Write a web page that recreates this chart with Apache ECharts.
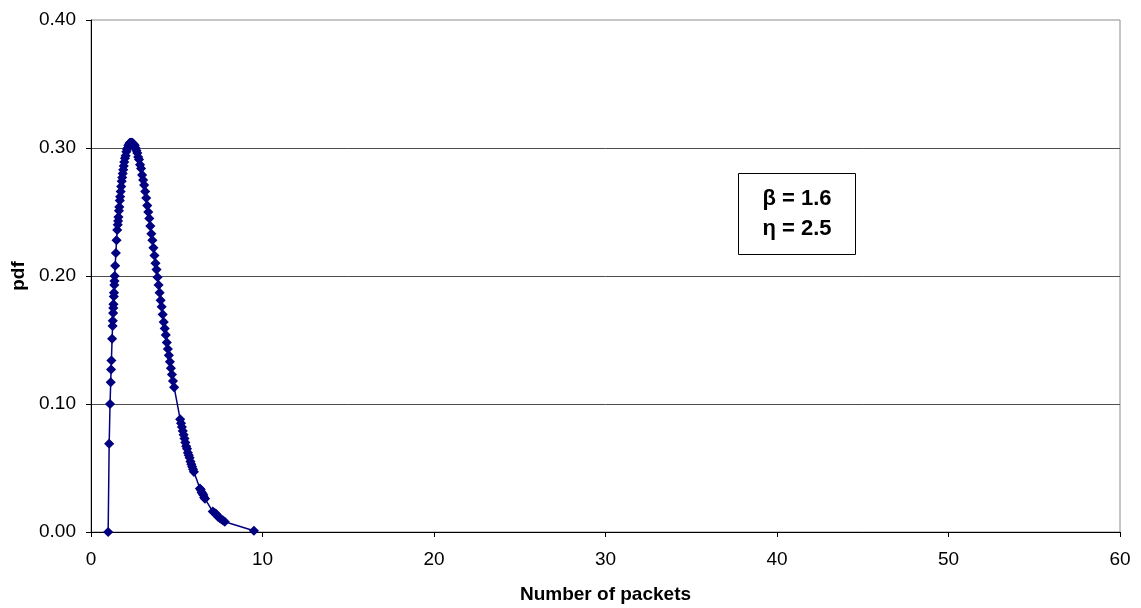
<!DOCTYPE html>
<html>
<head>
<meta charset="utf-8">
<title>pdf vs number of packets</title>
<script src="https://cdn.jsdelivr.net/npm/echarts@6/dist/echarts.min.js"></script>
<style>
  html, body { margin: 0; padding: 0; background: #ffffff; }
  #chart { width: 1141px; height: 608px; }
</style>
</head>
<body>
<div id="chart"></div>
<script>
// Observed packet counts (x) and the matching probability density (y)
const packetCounts = [
  1.00, 1.06, 1.11, 1.15, 1.17, 1.19, 1.23, 1.26, 1.27, 1.29,
  1.30, 1.31, 1.33, 1.34, 1.36, 1.37, 1.38, 1.41, 1.45, 1.49,
  1.53, 1.56, 1.58, 1.60, 1.63, 1.65, 1.68, 1.70, 1.73, 1.76,
  1.79, 1.82, 1.85, 1.88, 1.91, 1.94, 1.98, 2.02, 2.06, 2.10,
  2.14, 2.18, 2.22, 2.26, 2.30, 2.34, 2.38, 2.42, 2.46, 2.50,
  2.55, 2.60, 2.65, 2.70, 2.75, 2.80, 2.86, 2.92, 2.98, 3.04,
  3.10, 3.16, 3.22, 3.28, 3.34, 3.40, 3.46, 3.52, 3.58, 3.64,
  3.70, 3.76, 3.82, 3.88, 3.94, 4.00, 4.06, 4.12, 4.18, 4.24,
  4.30, 4.36, 4.42, 4.48, 4.54, 4.60, 4.66, 4.72, 4.78, 4.85,
  5.20, 5.25, 5.30, 5.35, 5.40, 5.45, 5.50, 5.55, 5.60, 5.65,
  5.70, 5.75, 5.80, 5.85, 5.90, 5.95, 6.00,
  6.35, 6.40, 6.45, 6.50, 6.55, 6.60, 6.65,
  7.10, 7.20, 7.30, 7.40, 7.50, 7.60, 7.70, 7.80,
  9.50
];
const pdfValues = [
  0.000, 0.069, 0.100, 0.117, 0.127, 0.134, 0.151, 0.161, 0.165, 0.171,
  0.175, 0.178, 0.184, 0.187, 0.193, 0.196, 0.200, 0.208, 0.218, 0.228,
  0.236, 0.240, 0.243, 0.246, 0.251, 0.254, 0.259, 0.262, 0.266, 0.270,
  0.274, 0.277, 0.280, 0.283, 0.286, 0.289, 0.292, 0.294, 0.297, 0.299,
  0.300, 0.302, 0.303, 0.304, 0.304, 0.304, 0.304, 0.304, 0.303, 0.303,
  0.302, 0.300, 0.298, 0.296, 0.293, 0.291, 0.287, 0.284, 0.279, 0.275,
  0.271, 0.266, 0.261, 0.255, 0.250, 0.245, 0.239, 0.233, 0.228, 0.222,
  0.216, 0.210, 0.205, 0.199, 0.193, 0.187, 0.181, 0.176, 0.170, 0.164,
  0.159, 0.154, 0.148, 0.143, 0.138, 0.133, 0.128, 0.123, 0.118, 0.113,
  0.088, 0.085, 0.082, 0.079, 0.076, 0.073, 0.070, 0.067, 0.065, 0.062,
  0.060, 0.058, 0.055, 0.053, 0.051, 0.049, 0.047,
  0.034, 0.033, 0.031, 0.030, 0.029, 0.027, 0.026,
  0.016, 0.015, 0.014, 0.012, 0.011, 0.010, 0.009, 0.008,
  0.001
];

// Axis ranges and tick steps
const xAxisRange = [0, 60, 10];
const yAxisRange = [0, 0.40, 0.10];

// Parameter annotation lines
const paramLines = ['β = 1.6', 'η = 2.5'];

const FONT = '"Liberation Sans", Arial, sans-serif';
const seriesData = packetCounts.map((x, i) => [x, pdfValues[i]]);

const chart = echarts.init(document.getElementById('chart'), null, { renderer: 'canvas' });

chart.setOption({
  backgroundColor: '#ffffff',
  animation: false,
  grid: {
    left: 91, right: 21, top: 20, bottom: 76,
    outerBoundsMode: 'none',
    containLabel: false,
    show: true,
    borderColor: '#8c8c8c',
    borderWidth: 1,
    backgroundColor: '#ffffff'
  },
  xAxis: {
    type: 'value',
    min: xAxisRange[0], max: xAxisRange[1], interval: xAxisRange[2],
    name: 'Number of packets',
    nameLocation: 'middle',
    nameGap: 53,
    nameTextStyle: { fontFamily: FONT, fontSize: 19, fontWeight: 'bold', color: '#000' },
    axisLine: { show: true, onZero: false, lineStyle: { color: '#000', width: 1 } },
    axisTick: { show: true, inside: false, length: 5, lineStyle: { color: '#000' } },
    axisLabel: { fontFamily: FONT, fontSize: 19, color: '#000', margin: 18 },
    splitLine: { show: false }
  },
  yAxis: {
    type: 'value',
    min: yAxisRange[0], max: yAxisRange[1], interval: yAxisRange[2],
    name: 'pdf',
    nameLocation: 'middle',
    nameGap: 61,
    nameTextStyle: { fontFamily: FONT, fontSize: 19, fontWeight: 'bold', color: '#000' },
    axisLine: { show: true, onZero: false, lineStyle: { color: '#000', width: 1 } },
    axisTick: { show: true, inside: false, length: 5, lineStyle: { color: '#000' } },
    axisLabel: {
      fontFamily: FONT, fontSize: 19, color: '#000', margin: 15,
      formatter: v => v.toFixed(2)
    },
    splitLine: {
      show: true,
      showMinLine: false,
      showMaxLine: false,
      lineStyle: { color: '#4d4d4d', width: 1 }
    }
  },
  series: [{
    type: 'line',
    data: seriesData,
    symbol: 'diamond',
    symbolSize: 8,
    showAllSymbol: true,
    itemStyle: { color: '#000080', borderColor: '#000080', borderWidth: 1.5 },
    lineStyle: { color: '#000080', width: 1.5 },
    z: 5
  }],
  graphic: [{
    type: 'group',
    left: 738,
    top: 173,
    children: [
      {
        type: 'rect',
        shape: { x: 0.5, y: 0.5, width: 117, height: 81 },
        style: { fill: '#ffffff', stroke: '#000000', lineWidth: 1 }
      },
      {
        type: 'text',
        x: 59, y: 26,
        style: {
          text: paramLines[0], font: 'bold 22px ' + FONT, fill: '#000',
          align: 'center', verticalAlign: 'middle'
        }
      },
      {
        type: 'text',
        x: 59, y: 56,
        style: {
          text: paramLines[1], font: 'bold 22px ' + FONT, fill: '#000',
          align: 'center', verticalAlign: 'middle'
        }
      }
    ]
  }]
});
</script>
</body>
</html>
